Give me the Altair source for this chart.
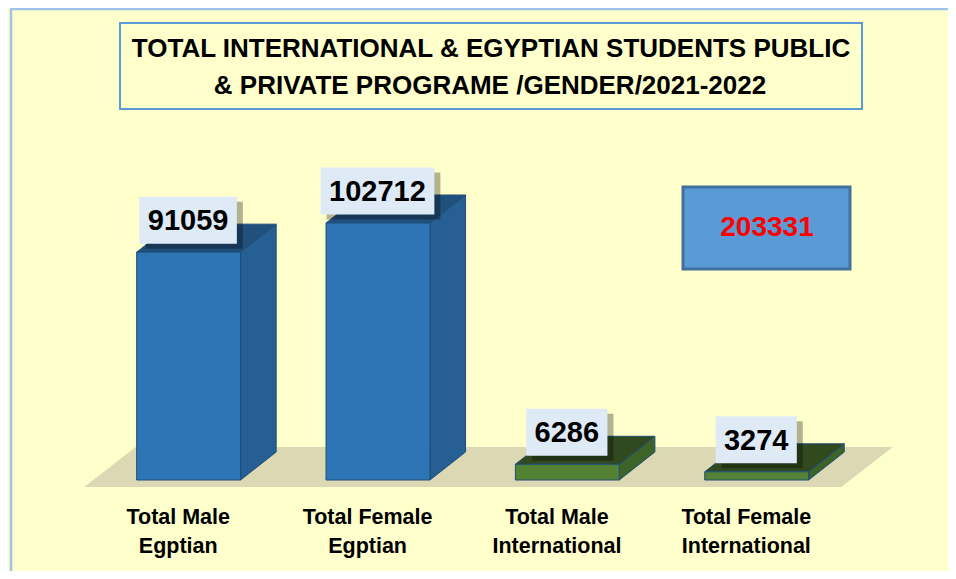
import altair as alt
import pandas as pd

# ---- data ----
categories = ["Total Male\nEgptian", "Total Female\nEgptian",
              "Total Male\nInternational", "Total Female\nInternational"]
values = [91059, 102712, 6286, 3274]
groups = ["Egyptian", "Egyptian", "International", "International"]
title_lines = ["TOTAL INTERNATIONAL & EGYPTIAN STUDENTS PUBLIC",
               "& PRIVATE PROGRAME /GENDER/2021-2022"]

# ---- layout constants (pixels) ----
W, H = 940, 563
ZERO_Y = 472.0            # pixel row of value 0
K = 257.0 / 102712.0      # pixels per student
SX = 191.4                # pixels per category step
C0 = 167.0                # pixel x of first category centre
FONT = "Liberation Sans"

def ux(px):
    return px / SX

def uy(px):
    return px / K

XS = alt.Scale(domain=[-C0 / SX, (W - C0) / SX], nice=False, zero=False)
YS = alt.Scale(domain=[(ZERO_Y - H) / K, ZERO_Y / K], nice=False, zero=False)

# ---- 3D faces built from the values ----
rows = []
L_OFF, R_OFF, DX, DY = -42, 63, 36, 28
for i, (v, g) in enumerate(zip(values, groups)):
    L = i + ux(L_OFF)
    R = i + ux(R_OFF)
    dx, dy = ux(DX), uy(DY)
    for x, y, y2 in [(L, 0, v), (R, 0, v)]:
        rows.append(dict(bar=i, grp=g, face="front", x=x, y=y, y2=y2))
    for x, y, y2 in [(R, 0, v), (R + dx, dy, v + dy)]:
        rows.append(dict(bar=i, grp=g, face="side", x=x, y=y, y2=y2))
    for x, y, y2 in [(L, v, v), (L + dx, v, v + dy), (R, v, v + dy), (R + dx, v + dy, v + dy)]:
        rows.append(dict(bar=i, grp=g, face="top", x=x, y=y, y2=y2))
faces = pd.DataFrame(rows)

# floor (decorative plane under the bars)
n = len(values)
fb, ft = -uy(7), uy(33)
fl, fr, fdx = ux(-95), (n - 1) + ux(96), ux(52)
floor = pd.DataFrame(dict(x=[fl, fl + fdx, fr, fr + fdx],
                          y=[fb, fb, fb, ft], y2=[fb, ft, ft, ft]))

labels = pd.DataFrame(dict(idx=list(range(n)), v=values, cat=categories,
                           grp=groups, lab=[str(v) for v in values]))

grp_dom = ["Egyptian", "International"]

def face_layer(face, rng):
    return alt.Chart(faces).transform_filter(alt.datum.face == face).mark_area(
        stroke="#1F4E79", strokeWidth=1, interpolate="linear"
    ).encode(
        x=alt.X("x:Q", scale=XS, axis=None),
        y=alt.Y("y:Q", scale=YS, axis=None),
        y2="y2:Q",
        detail="bar:N",
        color=alt.Color("grp:N", scale=alt.Scale(domain=grp_dom, range=rng), legend=None),
    )

one = pd.DataFrame({"a": [0]})

border_left = alt.Chart(one).mark_rule(color="#9DC3E6", strokeWidth=2.5).encode(
    x=alt.value(3), y=alt.value(0), y2=alt.value(H))
border_top = alt.Chart(one).mark_rule(color="#9DC3E6", strokeWidth=2.5).encode(
    x=alt.value(2), x2=alt.value(W), y=alt.value(1))

title_box = alt.Chart(one).mark_rect(fill="#FFFFCC", stroke="#5B9BD5", strokeWidth=2).encode(
    x=alt.value(112), x2=alt.value(854), y=alt.value(15), y2=alt.value(101))

title1 = alt.Chart(one).mark_text(font=FONT, fontWeight="bold", fontSize=26, align="center",
                                  baseline="alphabetic", color="black", text=title_lines[0]).encode(
    x=alt.value(483), y=alt.value(49))
title2 = alt.Chart(one).mark_text(font=FONT, fontWeight="bold", fontSize=26, align="center",
                                  baseline="alphabetic", color="black", text=title_lines[1]).encode(
    x=alt.value(482), y=alt.value(86))

floor_layer = alt.Chart(floor).mark_area(color="#DCD8B4", interpolate="linear").encode(
    x=alt.X("x:Q", scale=XS, axis=None),
    y=alt.Y("y:Q", scale=YS, axis=None),
    y2="y2:Q",
)

sides = face_layer("side", ["#255F93", "#3E6328"])
tops = face_layer("top", ["#21507C", "#30491E"])
fronts = face_layer("front", ["#2E75B6", "#548235"])

lab_base = alt.Chart(labels).transform_calculate(
    xb=f"datum.idx + {ux(10)}",
    yb=f"datum.v + {uy(8.5)}",
    yt=f"datum.v + {uy(55.5)}",
    yc=f"datum.v + {uy(32)}",
    w="length(datum.lab) * 16.3 + 16",
)

box_shadow = lab_base.mark_bar(color="black", opacity=0.3, xOffset=6, yOffset=5, y2Offset=5).encode(
    x=alt.X("xb:Q", scale=XS, axis=None),
    y=alt.Y("yb:Q", scale=YS, axis=None),
    y2="yt:Q",
    size=alt.Size("w:Q", scale=None),
)
boxes = lab_base.mark_bar(color="#DEEBF7").encode(
    x=alt.X("xb:Q", scale=XS, axis=None),
    y=alt.Y("yb:Q", scale=YS, axis=None),
    y2="yt:Q",
    size=alt.Size("w:Q", scale=None),
)
val_text = lab_base.mark_text(font=FONT, fontWeight="bold", fontSize=29, color="black",
                              align="center", baseline="middle", dy=1).encode(
    x=alt.X("xb:Q", scale=XS, axis=None),
    y=alt.Y("yc:Q", scale=YS, axis=None),
    text="lab:N",
)

cat_text = alt.Chart(labels).mark_text(font=FONT, fontWeight="bold", fontSize=21.5, color="black",
                                       align="center", baseline="alphabetic", lineBreak="\n",
                                       lineHeight=29).encode(
    x=alt.X("idx:Q", scale=XS, axis=None),
    y=alt.value(516),
    text="cat:N",
)

total_box = alt.Chart(one).mark_rect(fill="#5B9BD5", stroke="#41719C", strokeWidth=3).encode(
    x=alt.value(675), x2=alt.value(842), y=alt.value(179), y2=alt.value(261))
total_text = alt.Chart(labels).transform_aggregate(total="sum(v)").mark_text(
    font=FONT, fontWeight="bold", fontSize=28, color="#FF0000", align="center", baseline="middle"
).encode(x=alt.value(759), y=alt.value(220), text=alt.Text("total:Q", format="d"))

chart = alt.layer(
    border_left, border_top, title_box, title1, title2, floor_layer, sides, tops, fronts,
    box_shadow, boxes, val_text, cat_text, total_box, total_text,
).resolve_scale(color="independent").properties(
    width=W, height=H, background="#FFFFCC", padding=0,
    autosize=alt.AutoSizeParams(type="none"),
).configure_view(stroke="transparent", strokeWidth=0)

chart.save("out.html", embed_options={"renderer": "svg", "actions": False})
